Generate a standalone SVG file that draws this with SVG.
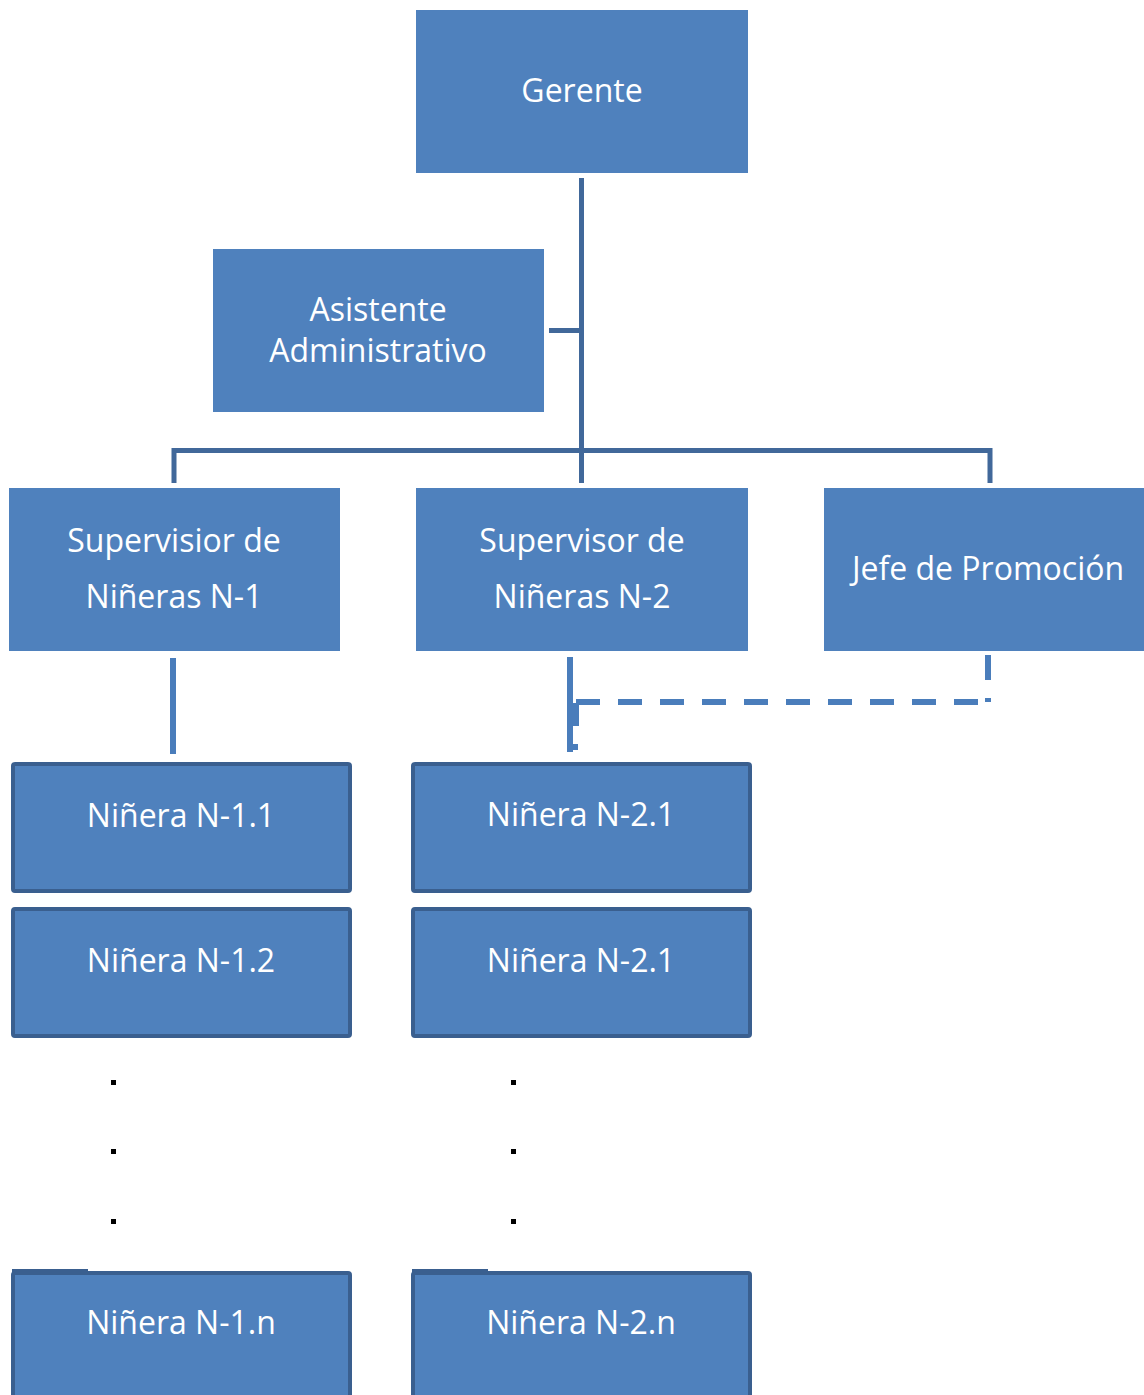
<svg xmlns="http://www.w3.org/2000/svg" width="1144" height="1395" viewBox="0 0 1144 1395">
<style>
.box{fill:#4F81BD}
.nb{fill:#4F81BD;stroke:#3A5F8F;stroke-width:4}
.t{font-family:"Open Sans","Noto Sans",sans-serif;font-size:32px;fill:#FFFFFF;text-anchor:middle}
.c{stroke:#41689A;stroke-width:5;fill:none}
.cl{stroke:#4A7DBB;stroke-width:6;fill:none}
.dot{fill:#000000}
</style>
<rect width="1144" height="1395" fill="#FFFFFF"/>
<g id="connectors">
<path class="c" d="M581.5 178 V483"/>
<path class="c" d="M549 330.5 H581"/>
<path class="c" d="M174 483 V450.5 H990 V483"/>
<path class="cl" d="M173 658 V754"/>
<path class="cl" d="M570 657 V752"/>
<path class="cl" d="M988 655 V680"/>
<path class="cl" d="M576 702 H985" stroke-dasharray="24,18"/>
<path class="cl" d="M988 698 V702" stroke-width="5"/>
<path class="cl" d="M576 703 V726"/>
<path class="cl" d="M573 747 H578" stroke-width="5"/>
</g>
<g id="gerente"><rect class="box" x="416" y="10" width="332" height="163"/><text class="t" x="582" y="102">Gerente</text></g>
<g id="asistente"><rect class="box" x="213" y="249" width="331" height="163"/><text class="t" x="378" y="321">Asistente</text><text class="t" x="378" y="362">Administrativo</text></g>
<g id="sup1"><rect class="box" x="9" y="488" width="331" height="163"/><text class="t" x="174" y="552">Supervisior de</text><text class="t" x="174" y="608">Niñeras N-1</text></g>
<g id="sup2"><rect class="box" x="416" y="488" width="332" height="163"/><text class="t" x="582" y="552">Supervisor de</text><text class="t" x="582" y="608">Niñeras N-2</text></g>
<g id="jefe"><rect class="box" x="824" y="488" width="322" height="163"/><text class="t" x="988" y="580">Jefe de Promoción</text></g>
<g id="n11"><rect class="nb" x="13" y="764" width="337" height="127" rx="2"/><text class="t" x="181" y="827">Niñera N-1.1</text></g>
<g id="n12"><rect class="nb" x="13" y="909" width="337" height="127" rx="2"/><text class="t" x="181" y="972">Niñera N-1.2</text></g>
<g id="n21"><rect class="nb" x="413" y="764" width="337" height="127" rx="2"/><text class="t" x="581" y="826">Niñera N-2.1</text></g>
<g id="n22"><rect class="nb" x="413" y="909" width="337" height="127" rx="2"/><text class="t" x="581" y="972">Niñera N-2.1</text></g>
<g id="n1n"><rect class="nb" x="13" y="1273" width="337" height="130" rx="2"/><path d="M12 1271 H88" stroke="#3A5F8F" stroke-width="4"/><text class="t" x="181" y="1334">Niñera N-1.n</text></g>
<g id="n2n"><rect class="nb" x="413" y="1273" width="337" height="130" rx="2"/><path d="M412 1271 H488" stroke="#3A5F8F" stroke-width="4"/><text class="t" x="581" y="1334">Niñera N-2.n</text></g>
<g id="dots">
<rect class="dot" x="111" y="1080" width="5" height="5"/>
<rect class="dot" x="111" y="1149" width="5" height="5"/>
<rect class="dot" x="111" y="1219" width="5" height="5"/>
<rect class="dot" x="511" y="1080" width="5" height="5"/>
<rect class="dot" x="511" y="1149" width="5" height="5"/>
<rect class="dot" x="511" y="1219" width="5" height="5"/>
</g>
</svg>
